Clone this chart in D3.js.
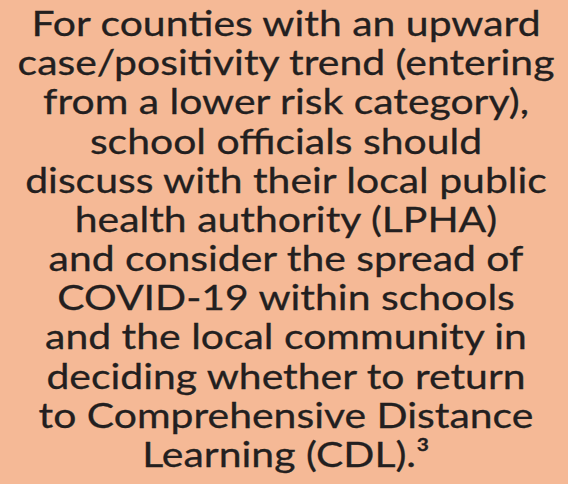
<!DOCTYPE html>
<html>
<head>
<meta charset="utf-8">
<script src="https://cdn.jsdelivr.net/npm/d3@7"></script>
<style>
  html, body { margin: 0; padding: 0; background: #f5b996; }
</style>
</head>
<body>
<div id="chart"></div>
<script>
// text lines of the notice
const lines = [
    "For counties with an upward",
    "case/positivity trend (entering",
    "from a lower risk category),",
    "school officials should",
    "discuss with their local public",
    "health authority (LPHA)",
    "and consider the spread of",
    "COVID-19 within schools",
    "and the local community in",
    "deciding whether to return",
    "to Comprehensive Distance",
    "Learning (CDL).\u00b3"
];

const width = 568,
    height = 484,
    fontSize = 35,
    maxTextWidth = 537;

const svg = d3.select("#chart")
    .append("svg")
    .attr("width", width)
    .attr("height", height);

svg.append("rect")
    .attr("width", width)
    .attr("height", height)
    .attr("fill", "#f5b996");

// baselines of first and last line
const y = d3.scaleLinear()
    .domain([0, lines.length - 1])
    .range([36, 467]);

const g = svg.append("g");

const texts = g.selectAll("text")
    .data(lines)
    .enter()
    .append("text")
    .attr("x", 0)
    .attr("y", (d, i) => y(i))
    .attr("text-anchor", "middle")
    .attr("font-family", "Lato, 'Open Sans', sans-serif")
    .attr("font-size", fontSize)
    .attr("fill", "#231f20")
    .attr("stroke", "#231f20")
    .attr("stroke-width", 0.3)
    .text(d => d);

// stretch horizontally so the widest line fits like the original
let widest = 0;
texts.each(function() {
    widest = Math.max(widest, this.getComputedTextLength());
});
const sx = maxTextWidth / widest;
g.attr("transform", `translate(${width / 2 + 2},0) scale(${sx},1)`);
</script>
</body>
</html>
